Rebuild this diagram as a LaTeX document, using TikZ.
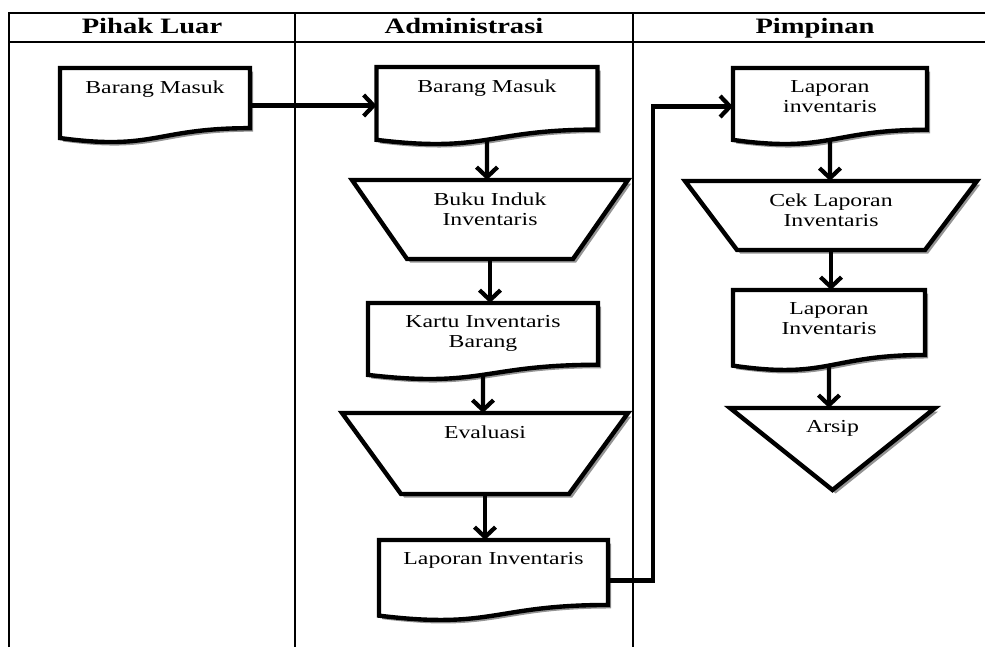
\documentclass[tikz,border=0pt]{standalone}
\usepackage{fontspec}
\setmainfont{Liberation Serif}[FakeStretch=1.3]
\usetikzlibrary{positioning,calc,shadows,arrows.meta}
\tikzset{
  tabel/.style={line width=0.85pt},
  kotak/.style={draw=none,inner sep=0,outer sep=0,rectangle},
  garis/.style={line width=2.5pt,fill=white,drop shadow={shadow xshift=1.8pt,shadow yshift=-2pt,fill=black!60,opacity=.7}},
  teks/.style={font=\fontsize{10.4}{11.4}\selectfont,align=center,inner sep=0},
  judul/.style={font=\fontsize{12.5}{14}\selectfont\bfseries,anchor=base},
  panah/.style={line width=2.4pt,-{Straight Barb[length=2mm,width=4.2mm]}}
}
\begin{document}
\begin{tikzpicture}[x=0.02cm,y=-0.02cm]
\useasboundingbox (0,0) rectangle (985,647);
\draw[tabel] (9,647) -- (9,13) -- (985,13) ; %edit here for the table
\draw[tabel] (9,42) -- (985,42);
\foreach \x in {295,633} \draw[tabel] (\x,13) -- (\x,647);
\foreach \n/\x/\judul in {hpl/152/{Pihak Luar},hadm/464/{Administrasi},hpim/815/{Pimpinan}}
\node[judul] (\n) at (\x,33) {\judul};
% shapes
\node[kotak,minimum width=3.8cm,minimum height=1.5cm] (pbm) at (155,105.5) {};
\node[kotak,minimum width=4.42cm,minimum height=1.56cm] (abm) at (487,106) {};
\node[kotak,minimum width=5.52cm,minimum height=1.58cm] (bii) at (490,219.5) {};
\node[kotak,minimum width=4.6cm,minimum height=1.54cm] (kib) at (483,341.5) {};
\node[kotak,minimum width=5.72cm,minimum height=1.62cm] (eva) at (485,453.5) {};
\node[kotak,minimum width=4.58cm,minimum height=1.62cm] (lia) at (493.5,580.5) {};
\node[kotak,minimum width=3.88cm,minimum height=1.54cm] (lpi) at (830,106.5) {};
\node[kotak,minimum width=5.84cm,minimum height=1.38cm] (clp) at (831,215.5) {};
\node[kotak,minimum width=3.84cm,minimum height=1.62cm] (lpd) at (829,330.5) {};
\node[kotak,minimum width=4.1cm,minimum height=1.64cm] (ars) at (832.5,449) {};
\foreach \n in {pbm,abm,kib,lia,lpi,lpd} % document shapes
\draw[garis] (\n.north west) -- (\n.north east) -- ($(\n.north east)!.802!(\n.south east)$)
  .. controls ($(\n.north)!.802!(\n.south)$) and ($(\n.north)!1.107!(\n.south)$) .. ($(\n.north west)!.934!(\n.south west)$) -- cycle;
\foreach \n/\k in {bii/55,eva/59,clp/52} % edit here for the slant
\draw[garis] (\n.north west) -- (\n.north east) -- ([xshift=-\k*0.02cm]\n.south east) -- ([xshift=\k*0.02cm]\n.south west) -- cycle;
\draw[garis] (ars.north west) -- (ars.north east) -- (ars.south) -- cycle;
% texts
\foreach \n/\texto in {pbm/{Barang Masuk},abm/{Barang Masuk},bii/{Buku Induk\\Inventaris},kib/{Kartu Inventaris\\Barang},eva/{Evaluasi},lia/{Laporan Inventaris},lpi/{Laporan\\inventaris},clp/{Cek Laporan\\Inventaris},lpd/{Laporan\\Inventaris},ars/{Arsip}}
\node[teks,below=0.24cm of \n.north] (\n t) {\texto};
% arrows
\draw[panah] (pbm.east) -- (pbm.east -| abm.west);
\draw[panah] ($(abm.north)!.93!(abm.south)$) -- (abm.south |- bii.north);
\draw[panah] (bii.south) -- (bii.south |- kib.north);
\draw[panah] ($(kib.north)!.93!(kib.south)$) -- (kib.south |- eva.north);
\draw[panah] (eva.south) -- (eva.south |- lia.north);
\coordinate (belok) at (653,574);
\draw[panah] (lia.east) -- (lia.east -| belok) |- (lpi.west);
\draw[panah] ($(lpi.north)!.93!(lpi.south)$) -- (lpi.south |- clp.north);
\draw[panah] (clp.south) -- (clp.south |- lpd.north);
\draw[panah] ($(lpd.north)!.93!(lpd.south)$) -- (lpd.south |- ars.north);
\end{tikzpicture}
\end{document}
